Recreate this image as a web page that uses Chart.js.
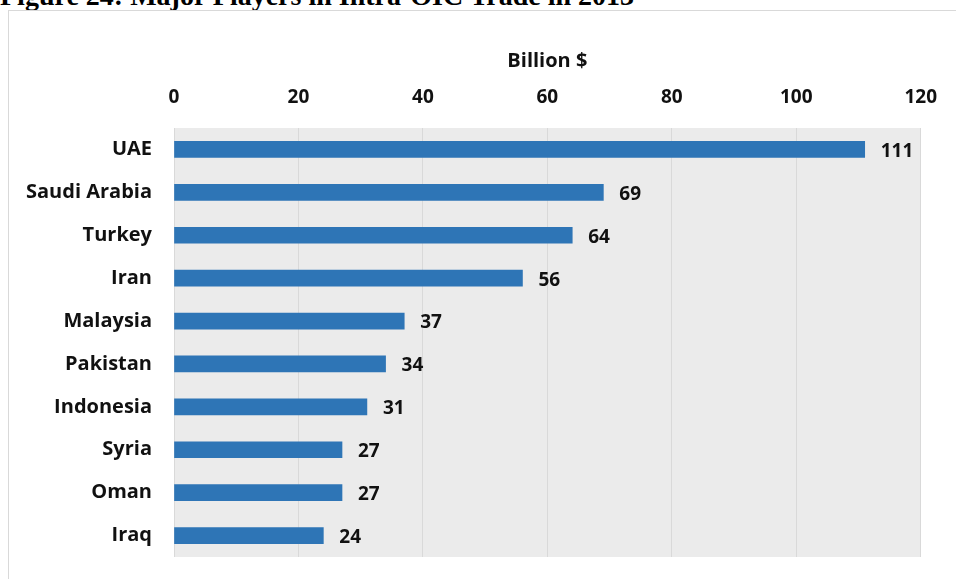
<!DOCTYPE html>
<html>
<head>
<meta charset="utf-8">
<script src="https://cdn.jsdelivr.net/npm/chart.js@4/dist/chart.umd.min.js"></script>
<style>
    body { margin: 0; background: #fff; width: 956px; height: 579px; overflow: hidden; position: relative; }
    #caption { position: absolute; left: 0; top: -20px; font: bold 28px "Liberation Serif", serif; color: #000; white-space: nowrap; }
    #frame { position: absolute; left: 8px; top: 10px; width: 960px; height: 600px; border: 1px solid #d9d9d9; }
    #wrap { position: absolute; left: 0; top: 0; width: 956px; height: 579px; }
</style>
</head>
<body>
<div id="caption">Figure 24: Major Players in Intra-OIC Trade in 2013</div>
<div id="frame"></div>
<div id="wrap"><canvas id="chart" width="956" height="579"></canvas></div>
<script>
// Data
const countries = ["UAE", "Saudi Arabia", "Turkey", "Iran", "Malaysia", "Pakistan", "Indonesia", "Syria", "Oman", "Iraq"];
const tradeValues = [111, 69, 64, 56, 37, 34, 31, 27, 27, 24];
const axisTitle = "Billion $";

const fontFamily = "'Open Sans', Lato, sans-serif";

// Grey plot background
const plotBackground = {
    id: "plotBackground",
    beforeDraw(chart) {
        const { ctx, chartArea } = chart;
        ctx.save();
        ctx.fillStyle = "#ebebeb";
        ctx.fillRect(chartArea.left, chartArea.top, chartArea.right - chartArea.left, chartArea.bottom - chartArea.top);
        ctx.restore();
    }
};

// Value labels at bar ends
const valueLabels = {
    id: "valueLabels",
    afterDatasetsDraw(chart) {
        const ctx = chart.ctx;
        const meta = chart.getDatasetMeta(0);
        ctx.save();
        ctx.font = "bold 19px " + fontFamily;
        ctx.fillStyle = "#111";
        ctx.textAlign = "left";
        ctx.textBaseline = "middle";
        meta.data.forEach((bar, i) => {
            ctx.fillText(tradeValues[i], bar.x + 16, bar.y + 2);
        });
        ctx.restore();
    }
};

const ctx = document.getElementById("chart");
new Chart(ctx, {
    type: "bar",
    data: {
        labels: countries,
        datasets: [{
            data: tradeValues,
            backgroundColor: "#2e75b6",
            barThickness: 16
        }]
    },
    options: {
        indexAxis: "y",
        responsive: false,
        animation: false,
        layout: { padding: { left: 0, right: 32, top: 0, bottom: 22 } },
        plugins: {
            legend: { display: false },
            tooltip: { enabled: false }
        },
        scales: {
            x: {
                position: "top",
                min: 0,
                max: 120,
                ticks: {
                    stepSize: 20,
                    padding: 19,
                    color: "#111",
                    font: { family: fontFamily, size: 19, weight: "bold" }
                },
                grid: { color: "#d9d9d9", drawTicks: false },
                border: { display: false },
                title: {
                    display: true,
                    text: axisTitle,
                    color: "#111",
                    font: { family: fontFamily, size: 20, weight: "bold" },
                    padding: { top: 49, bottom: 0 }
                },
                afterFit(scale) { scale.height = 128; }
            },
            y: {
                ticks: {
                    padding: 14,
                    color: "#111",
                    font: { family: fontFamily, size: 20, weight: "bold" }
                },
                grid: { display: false },
                border: { display: false },
                afterFit(scale) {
                    scale.width = 174;
                    scale.paddingTop = 0;
                    scale.paddingBottom = 0;
                }
            }
        }
    },
    plugins: [plotBackground, valueLabels]
});
</script>
</body>
</html>
